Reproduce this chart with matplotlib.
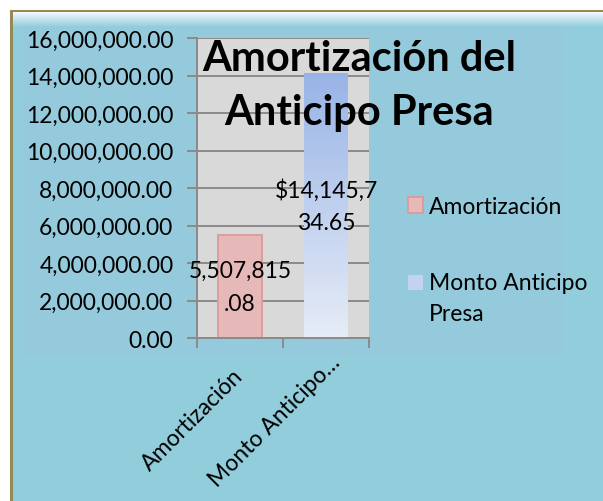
import matplotlib
matplotlib.use("Agg")
import matplotlib.pyplot as plt
import numpy as np
from matplotlib.patches import Rectangle, Patch
from matplotlib.ticker import FuncFormatter, FixedLocator
from matplotlib.colors import LinearSegmentedColormap
from matplotlib.legend_handler import HandlerPatch
import matplotlib.transforms as mtransforms

# ---- data ----
categories = ["Amortización", "Monto Anticipo…"]
series_names = ["Amortización", "Monto Anticipo\nPresa"]
values = [5507815.08, 14145734.65]
data_labels = ["5,507,815\n.08", "$14,145,7\n34.65"]
title_text = "Amortización del\nAnticipo Presa"
y_ticks = [0, 2e6, 4e6, 6e6, 8e6, 10e6, 12e6, 14e6, 16e6]

W, H = 603, 502
FS = 16.5
plt.rcParams['font.family'] = ['Lato', 'DejaVu Sans']

fig = plt.figure(figsize=(W / 100, H / 100), dpi=100)
fig.patch.set_facecolor('white')

# background chart area with border
bg = fig.add_axes([0, 0, 1, 1], zorder=-5)
bg.set_xlim(0, W)
bg.set_ylim(H, 0)
bg.axis('off')
bg.add_patch(Rectangle((11, 12), W + 20, H + 20, facecolor='#92CDDC',
                       edgecolor='#948A54', lw=2.2))
bg.add_patch(Rectangle((22, 16), 543, 341, facecolor='#94CADB', edgecolor='none'))
grad = np.linspace(0, 1, 64).reshape(-1, 1)
cm_top = LinearSegmentedColormap.from_list('t', ['#F4FAFC', '#92CDDC'])
bg.imshow(grad, cmap=cm_top, extent=(12.5, W, 28, 13.5), aspect='auto', zorder=2)

# main axes
left, right = 197 / W, 369 / W
bottom, top = 1 - 339.3 / H, 1 - 39.3 / H
ax = fig.add_axes([left, bottom, right - left, top - bottom])
ax.set_facecolor('#D9D9D9')

grid_c = '#8A8A8A'
ax.yaxis.set_major_locator(FixedLocator(y_ticks))
ax.yaxis.set_major_formatter(FuncFormatter(lambda v, p: f"{v:,.2f}"))
ax.grid(axis='y', color=grid_c, lw=1.4, zorder=0.5)
ax.set_axisbelow(True)
for s in ['top', 'right']:
    ax.spines[s].set_visible(False)
for s in ['left', 'bottom']:
    ax.spines[s].set_color(grid_c)
    ax.spines[s].set_linewidth(1.4)

x = np.arange(len(categories))
bw = 0.51
bars = ax.bar(x, values, width=bw, zorder=2)
bars[0].set_facecolor('#E6B9B8')
bars[0].set_edgecolor('#DB9A98')
bars[0].set_linewidth(1.3)
bars[1].set_facecolor('none')
bars[1].set_edgecolor('none')
cm_blue = LinearSegmentedColormap.from_list('b', ['#E6ECF7', '#98B4E6'])
b = bars[1]
img = ax.imshow(grad, cmap=cm_blue, origin='lower',
                extent=(b.get_x(), b.get_x() + b.get_width(), 0, b.get_height()),
                aspect='auto', zorder=1.9)
img.set_clip_path(b)
ax.set_xlim(-0.5, 1.5)
ax.set_ylim(0, 16e6)

for xi, v, lab in zip(x, values, data_labels):
    ax.text(xi, v / 2, lab, ha='center', va='center', fontsize=FS,
            linespacing=1.7, color='#000000', zorder=5)

ax.set_xticks(x)
ax.set_xticklabels(categories, rotation=45, ha='right', va='center',
                   rotation_mode='anchor', fontsize=FS)
ax.set_xticks([-0.5, 0.5, 1.5], minor=True)
ax.tick_params(axis='x', which='major', length=0, pad=24)
ax.tick_params(axis='x', which='minor', length=7, width=1.4, color=grid_c)
ax.tick_params(axis='y', length=7, width=1.4, color=grid_c, labelsize=FS, pad=10)
# Excel places the longer label a bit further up-right
lbls = ax.get_xticklabels()
lbls[1].set_transform(lbls[1].get_transform() +
                      mtransforms.ScaledTranslation(11 / 100, 13 / 100, fig.dpi_scale_trans))

# title
fig.text(359 / W, 1 - 40 / H, title_text, ha='center', va='top',
         fontsize=30, fontweight='bold', linespacing=1.5)

# legend
def top_aligned_patch(legend, orig_handle, xdescent, ydescent, width, height, fontsize):
    return Rectangle((-xdescent, -ydescent + orig_handle._lift), width, height)

class LiftPatch(Patch):
    def __init__(self, lift=0, **kw):
        super().__init__(**kw)
        self._lift = lift

handles = [LiftPatch(0, facecolor='#E6B9B8', edgecolor='#DB9A98', lw=1.3),
           LiftPatch(11.5, facecolor='#C3D2EF', edgecolor='none')]
leg = fig.legend(handles, series_names, loc='upper left',
                 bbox_to_anchor=(408 / W, 1 - 197 / H), frameon=False,
                 fontsize=FS, handlelength=0.65, handleheight=0.65,
                 handletextpad=0.28, labelspacing=2.4, borderpad=0, borderaxespad=0,
                 handler_map={LiftPatch: HandlerPatch(patch_func=top_aligned_patch)})
for t in leg.get_texts():
    t.set_linespacing(1.6)

fig.savefig('out.png', dpi=100)
